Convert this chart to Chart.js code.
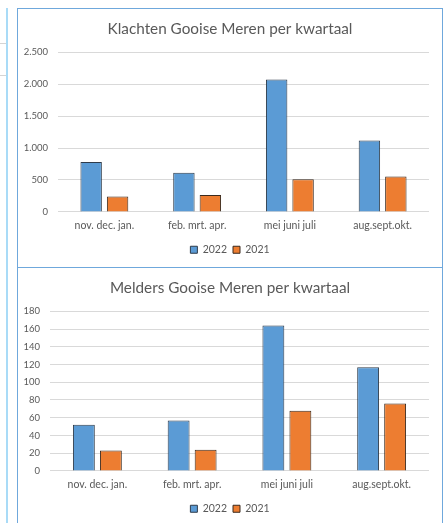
<!DOCTYPE html>
<html>
<head>
<meta charset="utf-8">
<script src="https://cdn.jsdelivr.net/npm/chart.js@4"></script>
<style>
  html, body { margin: 0; padding: 0; background: #fff; }
  body { width: 445px; height: 523px; position: relative; overflow: hidden; }
  .frame { position: absolute; box-sizing: border-box; border: 1px solid #6fa8dc; background: #fff; }
  .box { position: absolute; }
  .strip { position: absolute; left: 6px; top: 8px; width: 2px; height: 515px; background: #a9dbf7; }
  .hline { position: absolute; left: 0; width: 6px; height: 1px; background: #d4d4d4; }
</style>
</head>
<body>
<div class="strip"></div>
<div class="hline" style="top:43px"></div>
<div class="hline" style="top:75px"></div>

<div class="frame" style="left:17px; top:8px; width:426px; height:260px;"></div>
<div class="frame" style="left:17px; top:267px; width:426px; height:270px;"></div>

<div class="box" style="left:18px; top:9px; width:424px; height:257px;"><canvas id="klachten"></canvas></div>
<div class="box" style="left:18px; top:268px; width:424px; height:257px;"><canvas id="melders"></canvas></div>

<script>
const quarters = ['nov. dec. jan.', 'feb. mrt. apr.', 'mei juni juli', 'aug.sept.okt.'];
const seriesNames = ['2022', '2021'];

const klachten2022 = [780, 615, 2075, 1120];
const klachten2021 = [243, 263, 513, 555];
const klachtenTicks = [0, 2500, 500];

const melders2022 = [52, 57, 164, 117];
const melders2021 = [23, 24, 68, 76];
const meldersTicks = [0, 180, 20];

const textColor = '#595959';

function dots(v) {
    return String(v).replace(/\B(?=(\d{3})+(?!\d))/g, '.');
}

// title + legend centred on the whole canvas, not just the padded area
const centerBlocks = {
    id: 'centerBlocks',
    afterLayout(chart) {
        [chart.titleBlock, chart.legend].forEach(b => {
            if (b) {
                b.left = 0;
                b.right = chart.width;
                b.width = chart.width;
            }
        });
    }
};

function makeChart(id, title, a, b, ticks, axisWidth) {
    new Chart(document.getElementById(id), {
        type: 'bar',
        data: {
            labels: quarters,
            datasets: [{
                label: seriesNames[0],
                data: a,
                backgroundColor: '#5b9bd5',
                borderColor: '#2e3b4a',
                borderWidth: 1
            }, {
                label: seriesNames[1],
                data: b,
                backgroundColor: '#ed7d31',
                borderColor: '#3b2a1e',
                borderWidth: 1
            }]
        },
        plugins: [centerBlocks],
        options: {
            responsive: true,
            maintainAspectRatio: false,
            animation: false,
            categoryPercentage: 0.57,
            barPercentage: 0.81,
            layout: { padding: { left: 0, right: 13, top: 0, bottom: 1 } },
            scales: {
                x: {
                    grid: { display: false, drawTicks: false },
                    border: { display: false },
                    ticks: { color: textColor, padding: 7, font: { family: 'Lato', size: 10.5 } }
                },
                y: {
                    min: ticks[0],
                    max: ticks[1],
                    grid: { color: '#d9d9d9', drawTicks: false },
                    border: { display: false },
                    ticks: {
                        stepSize: ticks[2],
                        color: textColor,
                        padding: 10,
                        font: { family: 'Lato', size: 9.5 },
                        callback: v => dots(v)
                    },
                    afterFit: s => { s.width = axisWidth; }
                }
            },
            plugins: {
                title: {
                    display: true,
                    text: title,
                    color: textColor,
                    font: { family: 'Lato', size: 15.3, weight: 'normal' },
                    padding: { top: 11, bottom: 14 }
                },
                legend: {
                    position: 'bottom',
                    labels: {
                        boxWidth: 7,
                        boxHeight: 7,
                        padding: 6,
                        color: textColor,
                        font: { family: 'Lato', size: 10.5 }
                    }
                },
                tooltip: { enabled: false }
            }
        }
    });
}

makeChart('klachten', 'Klachten Gooise Meren per kwartaal', klachten2022, klachten2021, klachtenTicks, 40);
makeChart('melders', 'Melders Gooise Meren per kwartaal', melders2022, melders2021, meldersTicks, 32);
</script>
</body>
</html>
